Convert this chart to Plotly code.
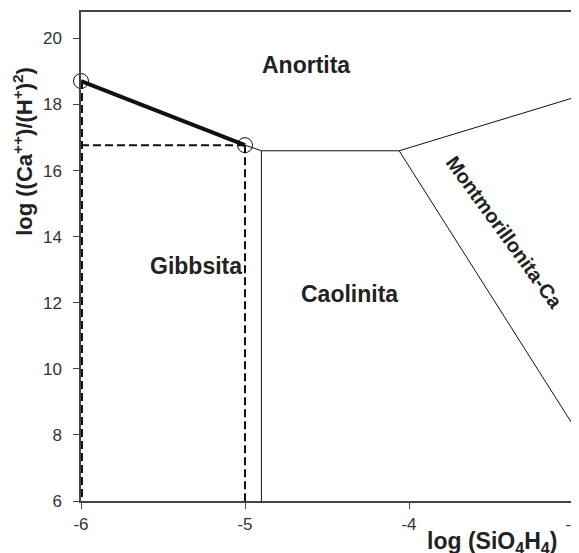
import plotly.graph_objects as go

# Data (log SiO4H4, log (Ca++)/(H+)^2)
path_x = [-6.0, -5.0]
path_y = [18.71, 16.77]

gib_ano_x = [-5.0, -4.9]
gib_ano_y = [16.77, 16.6]

gib_cao_x = [-4.9, -4.9]
gib_cao_y = [16.6, 6.0]

cao_ano_x = [-4.9, -4.06]
cao_ano_y = [16.6, 16.6]

mon_ano_x = [-4.06, -3.0]
mon_ano_y = [16.6, 18.2]

cao_mon_x = [-4.06, -3.0]
cao_mon_y = [16.6, 8.3]

dash_left_x = [-5.994, -5.994]
dash_left_y = [18.71, 6.0]
dash_h_x = [-6.0, -5.0]
dash_h_y = [16.77, 16.77]
dash_right_x = [-5.0, -5.0]
dash_right_y = [16.77, 6.0]

labels = ["Anortita", "Gibbsita", "Caolinita", "Montmorillonita-Ca"]
label_x = [-4.63, -5.30, -4.365, -3.42]
label_y = [19.19, 13.1, 12.27, 14.14]
label_angle = [0, 0, 0, 54]
label_size = [23, 23, 23, 20]
label_font = ["Liberation Sans, Arial", "Liberation Sans, Arial", "Liberation Sans, Arial",
              "Liberation Sans Narrow, Arial Narrow, Liberation Sans"]

x_ticks = [-6, -5, -4, -3]
y_ticks = [6, 8, 10, 12, 14, 16, 18, 20]

fig = go.Figure()

def line(x, y, width, dash="solid", color="#111"):
    fig.add_trace(go.Scatter(x=x, y=y, mode="lines",
                             line=dict(color=color, width=width, dash=dash),
                             showlegend=False, hoverinfo="skip"))

line(gib_ano_x, gib_ano_y, 1)
line(gib_cao_x, gib_cao_y, 1)
line(cao_ano_x, cao_ano_y, 1)
line(mon_ano_x, mon_ano_y, 1)
line(cao_mon_x, cao_mon_y, 1)
line(dash_left_x, dash_left_y, 2, dash="8px,4px")
line(dash_h_x, dash_h_y, 2, dash="8px,4px")
line(dash_right_x, dash_right_y, 2, dash="8px,4px")
line(path_x, path_y, 4)

fig.add_trace(go.Scatter(x=path_x, y=path_y, mode="markers",
                         marker=dict(symbol="circle-open", size=15,
                                     color="#111", line=dict(width=1)),
                         cliponaxis=False, showlegend=False, hoverinfo="skip"))

for t, x, y, a, s, f in zip(labels, label_x, label_y, label_angle, label_size, label_font):
    fig.add_annotation(x=x, y=y, text="<b>" + t + "</b>", showarrow=False,
                       xanchor="center", yanchor="middle",
                       textangle=a, font=dict(size=s, color="#222", family=f))

fig.add_annotation(xref="paper", yref="paper", x=-0.118, y=0.716,
                   xanchor="center", yanchor="middle",
                   text="<b>log ((Ca<sup>++</sup>)/(H<sup>+</sup>)<sup>2</sup>)</b>",
                   textangle=-90, showarrow=False,
                   font=dict(size=22, color="#222", family="Liberation Sans, Arial"))
fig.add_annotation(xref="paper", yref="paper", x=0.835, y=-0.085,
                   xanchor="center", yanchor="middle",
                   text="<b>log (SiO<sub>4</sub>H<sub>4</sub>)</b>",
                   showarrow=False,
                   font=dict(size=23, color="#222", family="Liberation Sans, Arial"))

axis_common = dict(showgrid=False, zeroline=False, showline=True, mirror=True,
                   linecolor="#444", linewidth=1.5, ticks="outside", ticklen=6,
                   tickcolor="#444", tickwidth=1.2, automargin=False,
                   ticklabeloverflow="allow",
                   tickfont=dict(size=17, color="#333", family="Liberation Sans, Arial"))

fig.update_xaxes(range=[-6, -3], tickvals=x_ticks, ticktext=[str(v) for v in x_ticks],
                 ticklabelstandoff=1, **axis_common)
fig.update_yaxes(range=[6, 20.8], tickvals=y_ticks, ticklabelstandoff=8, **axis_common)

# page has an 8px body margin, so the figure is 8px smaller and shifted margins
fig.update_layout(width=571, height=545, plot_bgcolor="white", paper_bgcolor="white",
                  margin=dict(l=73, r=6, t=4, b=52), showlegend=False)

fig.write_html("out.html")
